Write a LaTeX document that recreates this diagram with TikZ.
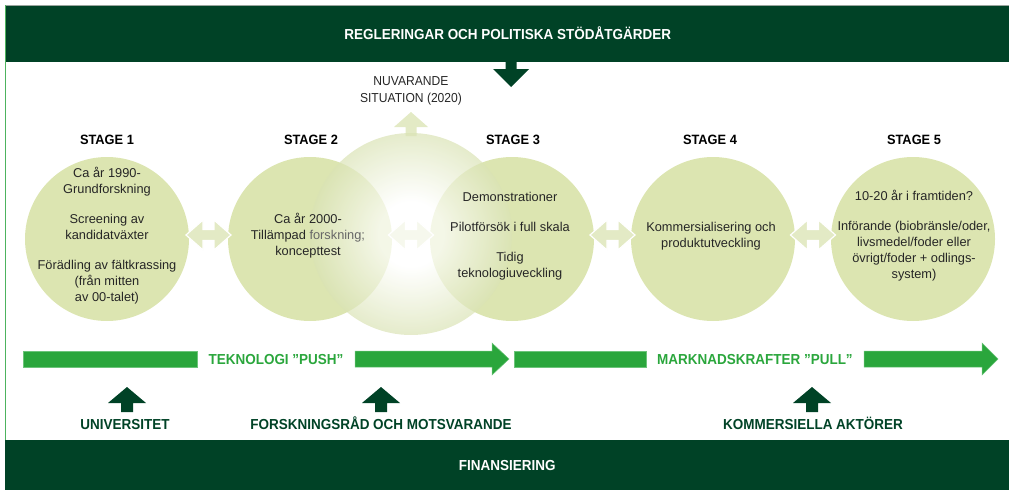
\documentclass[tikz,border=0pt]{standalone}
\usepackage{fontspec}
\setmainfont{Liberation Sans}
\newfontfamily\condfont[FakeStretch=0.93]{Liberation Sans}
\newfontfamily\headfont[FakeStretch=0.95]{Liberation Sans}

\definecolor{darkgreen}{HTML}{004226}
\definecolor{pushgreen}{HTML}{2AA63C}
\definecolor{pushedge}{HTML}{6CC47A}
\definecolor{stagefill}{HTML}{DCE5B1}
\definecolor{paleband}{HTML}{E3EAC5}
\definecolor{haze}{HTML}{DAE3B5}
\definecolor{bodytext}{HTML}{262626}
\definecolor{framegreen}{HTML}{4DB35E}
\definecolor{framegray}{HTML}{9AA59E}

% white core fading to pale green at the rim (rim = 25bp)
\pgfdeclareradialshading{hazeshade}{\pgfpoint{0bp}{0bp}}{%
  color(0bp)=(white); color(8bp)=(white); color(25bp)=(haze); color(50bp)=(haze)}

\newcommand{\diagcaps}{\condfont\bfseries\fontsize{14.5}{17}\selectfont}
\newcommand{\diaghead}{\headfont\bfseries\fontsize{13.5}{16}\selectfont}
\newcommand{\diagbody}{\fontsize{12.8}{16}\selectfont}
\newcommand{\diagnote}{\condfont\fontsize{13}{17}\selectfont}

\tikzset{
  banner/.style={fill=darkgreen, text=white, inner sep=0pt, font=\diagcaps,
    text height=10.4pt, text depth=0pt, anchor=north west},
  capslabel/.style={font=\diagcaps, inner sep=0pt, text height=10.4pt, text depth=0pt},
  stagedisc/.style={circle, fill=stagefill, minimum size=164pt, inner sep=0pt},
  stagehead/.style={font=\diaghead, text=black, inner sep=0pt},
  stagetext/.style={font=\diagbody, text=bodytext, align=center, inner sep=0pt},
  pics/twoway/.style={code={
    \path[fill=paleband, draw=white, line width=1.2pt, line join=miter]
      (-22.5,0) -- (-5.5,-15) -- (-5.5,-5.5) -- (5.5,-5.5) -- (5.5,-15)
      -- (22.5,0) -- (5.5,15) -- (5.5,5.5) -- (-5.5,5.5) -- (-5.5,15) -- cycle;
  }},
  pics/upblock/.style={code={
    \fill[darkgreen] (0,0) -- (19,16) -- (6,16) -- (6,25) -- (-6,25) -- (-6,16)
      -- (-19,16) -- cycle;
  }},
}

\begin{document}
\begin{tikzpicture}[x=1pt,y=-1pt]
\useasboundingbox (0,0) rectangle (1009,490);

% outer frame
\draw[framegray, line width=0.8pt] (5,5.5) -- (1009,5.5);
\draw[framegreen, line width=1pt] (5.5,5) -- (5.5,440);

% top and bottom banners
\node[banner, minimum width=1003pt, minimum height=56pt] (regl) at (6,6)
  {REGLERINGAR OCH POLITISKA STÖDÅTGÄRDER};
\node[banner, minimum width=1004pt, minimum height=50pt] (fin) at (5,440)
  {FINANSIERING};

% policy arrow down from the top banner
\fill[darkgreen] (505.5,62) -- (505.5,69) -- (493,69) -- (511,87) -- (529,69)
  -- (516.5,69) -- (516.5,62) -- cycle;

% current situation marker
\node[font=\diagnote, text=bodytext, align=center, inner sep=0pt] (now) at (411,91)
  {NUVARANDE\\SITUATION (2020)};
\fill[paleband] (411,112) -- (428,127) -- (416.5,127) -- (416.5,136) -- (405.5,136)
  -- (405.5,127) -- (394,127) -- cycle;

% stage discs
\node[stagedisc] (s1) at (107,239) {};
\node[stagedisc] (s2) at (310,239) {};
\node[stagedisc] (s3) at (512,239) {};
\node[stagedisc] (s4) at (713,239) {};
\node[stagedisc] (s5) at (913,239) {};

% links between the stages
\pic at (208.5,235) {twoway};
\pic at (411,235) {twoway};
\pic at (612.5,235) {twoway};
\pic at (813,235) {twoway};

% the present moment, spanning stages 2 and 3
\shade[shading=hazeshade, fill opacity=0.7] (411,234) circle (101pt);

% stage headings
\node[stagehead] (h1) at (107,140) {STAGE 1};
\node[stagehead] (h2) at (311,140) {STAGE 2};
\node[stagehead] (h3) at (513,140) {STAGE 3};
\node[stagehead] (h4) at (710,140) {STAGE 4};
\node[stagehead] (h5) at (914,140) {STAGE 5};

% stage contents
\node[stagetext] (t1) at (107,236) {Ca år 1990-\\Grundforskning\\[14pt]Screening av\\kandidatväxter\\[14pt]Förädling av fältkrassing\\(från mitten\\av 00-talet)};
\node[stagetext] (t2) at (308,236) {Ca år 2000-\\Tillämpad {\color{bodytext!70}forskning;}\\koncepttest};
\node[stagetext] (t3) at (510,236) {Demonstrationer\\[14pt]Pilotförsök i full skala\\[14pt]Tidig\\teknologiuveckling};
\node[stagetext] (t4) at (711,236) {Kommersialisering och\\produktutveckling};
\node[stagetext] (t5) at (914,236) {10-20 år i framtiden?\\[14pt]Införande (biobränsle/oder,\\livsmedel/foder eller\\övrigt/foder + odlings-\\system)};

% push / pull band
\node[capslabel, text=pushgreen] (push) at (276,359) {TEKNOLOGI ”PUSH”};
\node[capslabel, text=pushgreen] (pull) at (755,359) {MARKNADSKRAFTER ”PULL”};
\begin{scope}[fill=pushgreen, draw=pushedge, line width=0.5pt]
  \filldraw (23,351) rectangle (197,367);
  \filldraw (355,351) -- (492,351) -- (492,343) -- (509,359) -- (492,375)
    -- (492,367) -- (355,367) -- cycle;
  \filldraw (514,351) rectangle (646,367);
  \filldraw (864,351) -- (982,351) -- (982,343) -- (998,359) -- (982,375)
    -- (982,367) -- (864,367) -- cycle;
\end{scope}

% actors feeding the chain
\pic at (127,387) {upblock};
\pic at (381,387) {upblock};
\pic at (812,387) {upblock};
\node[capslabel, text=darkgreen] (uni) at (125,424) {UNIVERSITET};
\node[capslabel, text=darkgreen] (fr) at (381,424) {FORSKNINGSRÅD OCH MOTSVARANDE};
\node[capslabel, text=darkgreen] (ka) at (813,424) {KOMMERSIELLA AKTÖRER};
\end{tikzpicture}
\end{document}
